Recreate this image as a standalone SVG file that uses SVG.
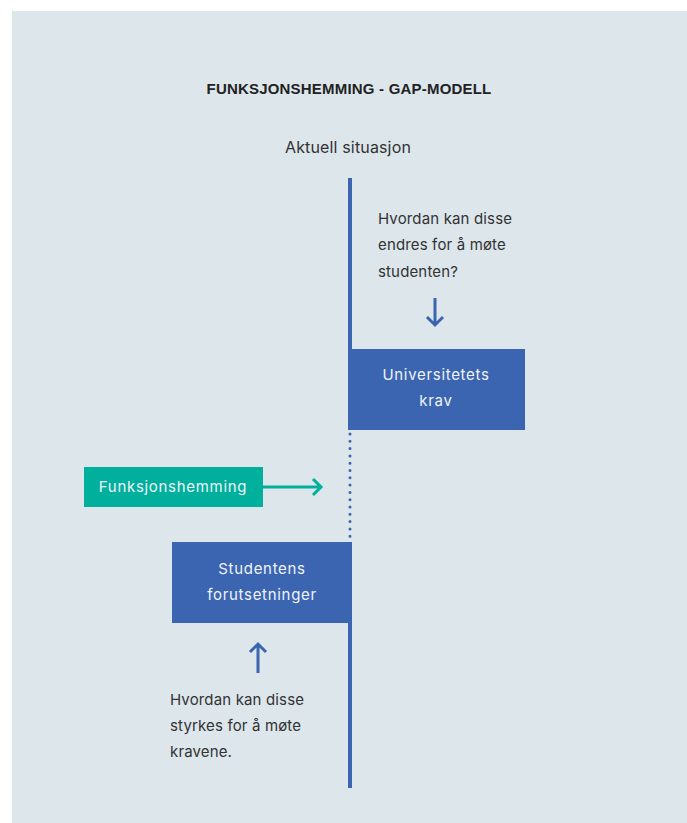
<svg xmlns="http://www.w3.org/2000/svg" width="687" height="823" viewBox="0 0 687 823">
<defs>
<style>
.t{font-family:Inter,"Liberation Sans",sans-serif;font-size:15px;fill:#333;letter-spacing:0.15px;}
.w{font-family:Inter,"Liberation Sans",sans-serif;font-size:15px;fill:#eef3fa;text-anchor:middle;letter-spacing:0.7px;}
.title{font-family:"Liberation Sans",Arial,sans-serif;font-size:15px;font-weight:bold;fill:#222;text-anchor:middle;letter-spacing:0.2px;}
.blue{fill:#3c65b1;}
.ln{stroke:#3c65b1;stroke-width:4;fill:none;}
</style>
</defs>
<rect x="12" y="11" width="675" height="812" fill="#dce6eb"/>
<text class="title" x="349" y="94">FUNKSJONSHEMMING - GAP-MODELL</text>
<text class="t" x="348" y="153" text-anchor="middle" style="font-size:16px">Aktuell situasjon</text>
<g id="connectors">
<line class="ln" x1="350" y1="178" x2="350" y2="350"/>
<line x1="350" y1="434" x2="350" y2="540" stroke="#3c65b1" stroke-width="3" stroke-linecap="round" stroke-dasharray="0 7.3"/>
<line class="ln" x1="350" y1="622" x2="350" y2="788"/>
<path d="M435 298 V325 M427 317 L435 325 L443 317" stroke="#3c65b1" stroke-width="3" fill="none"/>
<path d="M258 673 V644 M250 652 L258 644 L266 652" stroke="#3c65b1" stroke-width="3" fill="none"/>
<path d="M263 487 H321 M313 479 L321 487 L313 495" stroke="#00b09c" stroke-width="3" fill="none"/>
</g>
<g id="q1">
<text class="t" x="378" y="224">Hvordan kan disse</text>
<text class="t" x="378" y="250">endres for å møte</text>
<text class="t" x="378" y="277">studenten?</text>
</g>
<g id="krav">
<rect class="blue" x="348" y="349" width="177" height="81"/>
<text class="w" x="436" y="380">Universitetets</text>
<text class="w" x="436" y="406">krav</text>
</g>
<g id="funk">
<rect x="84" y="467" width="179" height="40" fill="#00b09c"/>
<text class="w" x="173" y="492">Funksjonshemming</text>
</g>
<g id="stud">
<rect class="blue" x="172" y="542" width="180" height="81"/>
<text class="w" x="262" y="574">Studentens</text>
<text class="w" x="262" y="600">forutsetninger</text>
</g>
<g id="q2">
<text class="t" x="170" y="705">Hvordan kan disse</text>
<text class="t" x="170" y="731">styrkes for å møte</text>
<text class="t" x="170" y="757">kravene.</text>
</g>
</svg>
